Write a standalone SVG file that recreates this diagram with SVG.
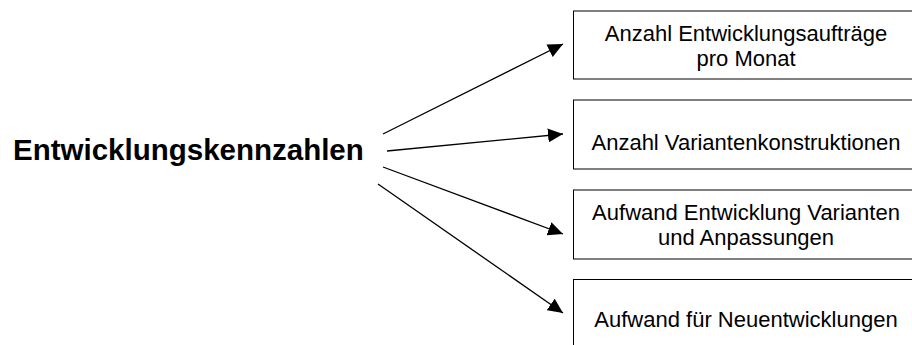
<svg xmlns="http://www.w3.org/2000/svg" width="912" height="345" viewBox="0 0 912 345">
  <style>
    .box { fill: #ffffff; stroke: #000000; stroke-width: 1; }
    .label { font-family: "Liberation Sans", Arial, sans-serif; font-size: 22px; fill: #000000; text-anchor: middle; }
    .title { font-family: "Liberation Sans", Arial, sans-serif; font-size: 29.5px; font-weight: bold; fill: #000000; }
    .conn { stroke: #000000; stroke-width: 1.3; fill: none; marker-end: url(#arrow); }
  </style>
  <defs>
    <marker id="arrow" markerUnits="userSpaceOnUse" markerWidth="16" markerHeight="14" refX="15" refY="7" orient="auto">
      <path d="M0,0 L15,7 L0,14 z" fill="#000000"/>
    </marker>
  </defs>
  <rect width="912" height="345" fill="#ffffff"/>

  <g id="node-root">
    <text class="title" x="13" y="160">Entwicklungskennzahlen</text>
  </g>

  <g id="node-auftraege">
    <rect class="box" x="573.5" y="11" width="346" height="68"/>
    <text class="label" x="746" y="41">Anzahl Entwicklungsaufträge</text>
    <text class="label" x="746" y="66">pro Monat</text>
  </g>

  <g id="node-varianten">
    <rect class="box" x="573.5" y="100" width="346" height="69"/>
    <text class="label" x="746" y="150">Anzahl Variantenkonstruktionen</text>
  </g>

  <g id="node-aufwand-varianten">
    <rect class="box" x="573.5" y="190" width="346" height="69"/>
    <text class="label" x="746" y="220">Aufwand Entwicklung Varianten</text>
    <text class="label" x="746" y="245">und Anpassungen</text>
  </g>

  <g id="node-neuentwicklungen">
    <rect class="box" x="573.5" y="279.5" width="346" height="80"/>
    <text class="label" x="746" y="327">Aufwand für Neuentwicklungen</text>
  </g>

  <g id="connectors">
    <line class="conn" x1="383" y1="134" x2="563" y2="44"/>
    <line class="conn" x1="387" y1="151" x2="563" y2="134"/>
    <line class="conn" x1="383" y1="167" x2="563" y2="234"/>
    <line class="conn" x1="378" y1="184" x2="563" y2="313"/>
  </g>
</svg>
